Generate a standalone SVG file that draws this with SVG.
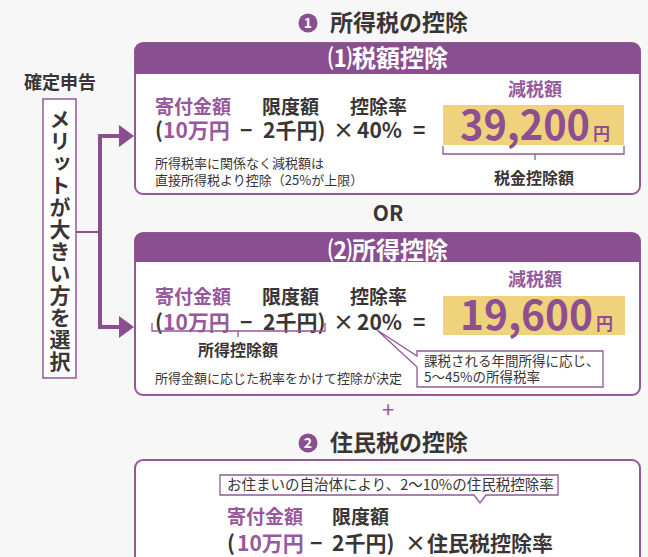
<svg xmlns="http://www.w3.org/2000/svg" width="648" height="557" viewBox="0 0 648 557">
<defs>
<style>
text{font-family:"Noto Sans CJK JP","Noto Sans",sans-serif;fill:#3a3535}
.b{font-weight:700}
.n{font-weight:400}
.pu{fill:#97599c}
.num{fill:#8d4f92;font-weight:700}
.w{fill:#ffffff}
.box{fill:#ffffff;stroke:#93579a;stroke-width:2}
.hdr{fill:#8a4f8f}
.yel{fill:#efd27c}
.thin{fill:none;stroke:#93579a;stroke-width:1.3}
.call{fill:#ffffff;stroke:#93579a;stroke-width:1.3}
.f19{font-size:19px}
.f21{font-size:21px}
.f13{font-size:13px}
.f16{font-size:16px}
.conn{fill:none;stroke:#8a4f8f;stroke-width:4}
</style>
<marker id="arr" markerUnits="userSpaceOnUse" markerWidth="16" markerHeight="24" refX="1" refY="11" orient="auto">
<path d="M0,0 L15,11 L0,22 Z" fill="#8a4f8f"/>
</marker>
</defs>
<rect x="0" y="0" width="648" height="557" fill="#f8f7f7"/>

<g id="title1">
<circle cx="308" cy="23" r="9.5" fill="#8a4f8f"/>
<text x="308" y="28" text-anchor="middle" class="b w" font-size="14">1</text>
<text x="330" y="31" class="b" font-size="23">所得税の控除</text>
</g>

<g id="kakutei">
<text x="60" y="89" text-anchor="middle" class="b" font-size="18">確定申告</text>
</g>

<g id="choice">
<rect x="43" y="99" width="33" height="279" fill="#ffffff" stroke="#93579a" stroke-width="1.5"/>
<text x="60" y="241" text-anchor="middle" class="b" font-size="21" letter-spacing="1" style="writing-mode:vertical-rl">メリットが大きい方を選択</text>
</g>

<g id="connectors">
<line x1="76" y1="232" x2="101" y2="232" stroke="#8a4f8f" stroke-width="2"/>
<path class="conn" d="M100 232 V136 H120" marker-end="url(#arr)"/>
<path class="conn" d="M100 232 V327 H120" marker-end="url(#arr)"/>
</g>

<g id="box1">
<rect class="box" x="135" y="43" width="505" height="151" rx="8"/>
<path class="hdr" d="M135 74 V51 Q135 43 143 43 H632 Q640 43 640 51 V74 Z"/>
<text x="388" y="67" text-anchor="middle" class="b w" font-size="24">⑴税額控除</text>
<text x="155" y="114" class="b pu f19">寄付金額</text>
<text x="262" y="114" class="b f19">限度額</text>
<text x="350" y="114" class="b f19">控除率</text>
<text y="138" class="b f21"><tspan x="155">(</tspan><tspan x="163" class="pu">10万円</tspan><tspan x="240">−</tspan><tspan x="263">2千円)</tspan><tspan x="333">×</tspan><tspan x="357">40%</tspan><tspan x="413">=</tspan></text>
<text x="155" y="168" class="n f13">所得税率に関係なく減税額は</text>
<text x="155" y="185" class="n f13">直接所得税より控除（25%が上限）</text>
<text x="535" y="96" text-anchor="middle" class="b pu" font-size="18">減税額</text>
<rect class="yel" x="443" y="105" width="181" height="40"/>
<text y="140" class="num" font-size="41"><tspan x="460" textLength="130" lengthAdjust="spacingAndGlyphs">39,200</tspan><tspan x="593" font-size="17">円</tspan></text>
<path class="thin" d="M443 146 V154 H624 V146 M535 154 V160"/>
<text x="534" y="184" text-anchor="middle" class="b f16">税金控除額</text>
</g>

<g id="or">
<text x="388" y="221" text-anchor="middle" class="b" font-size="21">OR</text>
</g>

<g id="box2">
<rect class="box" x="135" y="233" width="505" height="162" rx="8"/>
<path class="hdr" d="M135 262 V241 Q135 233 143 233 H632 Q640 233 640 241 V262 Z"/>
<text x="388" y="259" text-anchor="middle" class="b w" font-size="24">⑵所得控除</text>
<text x="155" y="304" class="b pu f19">寄付金額</text>
<text x="262" y="304" class="b f19">限度額</text>
<text x="350" y="304" class="b f19">控除率</text>
<text y="330" class="b f21"><tspan x="155">(</tspan><tspan x="163" class="pu">10万円</tspan><tspan x="240">−</tspan><tspan x="263">2千円)</tspan><tspan x="333">×</tspan><tspan x="357">20%</tspan><tspan x="413">=</tspan></text>
<path class="thin" d="M152 323 V331 H325 V323 M238 331 V337"/>
<text x="238" y="356" text-anchor="middle" class="b f16">所得控除額</text>
<text x="155" y="383" class="n f13">所得金額に応じた税率をかけて控除が決定</text>
<text x="535" y="286" text-anchor="middle" class="b pu" font-size="18">減税額</text>
<rect class="yel" x="443" y="296" width="182" height="39"/>
<text y="330" class="num" font-size="41"><tspan x="460" textLength="133" lengthAdjust="spacingAndGlyphs">19,600</tspan><tspan x="596" font-size="17">円</tspan></text>
<path class="call" d="M417 351 H603 V387 H417 V367 L377 330 L417 356 Z"/>
<text x="424" y="366" class="n" font-size="13.5">課税される年間所得に応じ、</text>
<text x="424" y="382" class="n" font-size="13.5">5〜45%の所得税率</text>
</g>

<g id="plus">
<text x="388" y="418" text-anchor="middle" class="pu" font-size="22">+</text>
</g>

<g id="title2">
<circle cx="308" cy="443" r="9.5" fill="#8a4f8f"/>
<text x="308" y="448" text-anchor="middle" class="b w" font-size="14">2</text>
<text x="330" y="451" class="b" font-size="23">住民税の控除</text>
</g>

<g id="box3">
<rect class="box" x="135" y="460" width="505" height="120" rx="8"/>
<path class="call" d="M220 475 H558 V495 H486 L480 503 L474 495 H220 Z"/>
<text x="227" y="490" class="n" font-size="14.5">お住まいの自治体により、2〜10%の住民税控除率</text>
<text x="227" y="524" class="b pu f19">寄付金額</text>
<text x="332" y="524" class="b f19">限度額</text>
<text y="551" class="b f21"><tspan x="227">(</tspan><tspan x="237" class="pu">10万円</tspan><tspan x="310">−</tspan><tspan x="332">2千円)</tspan><tspan x="405">×</tspan><tspan x="427">住民税控除率</tspan></text>
</g>
</svg>
